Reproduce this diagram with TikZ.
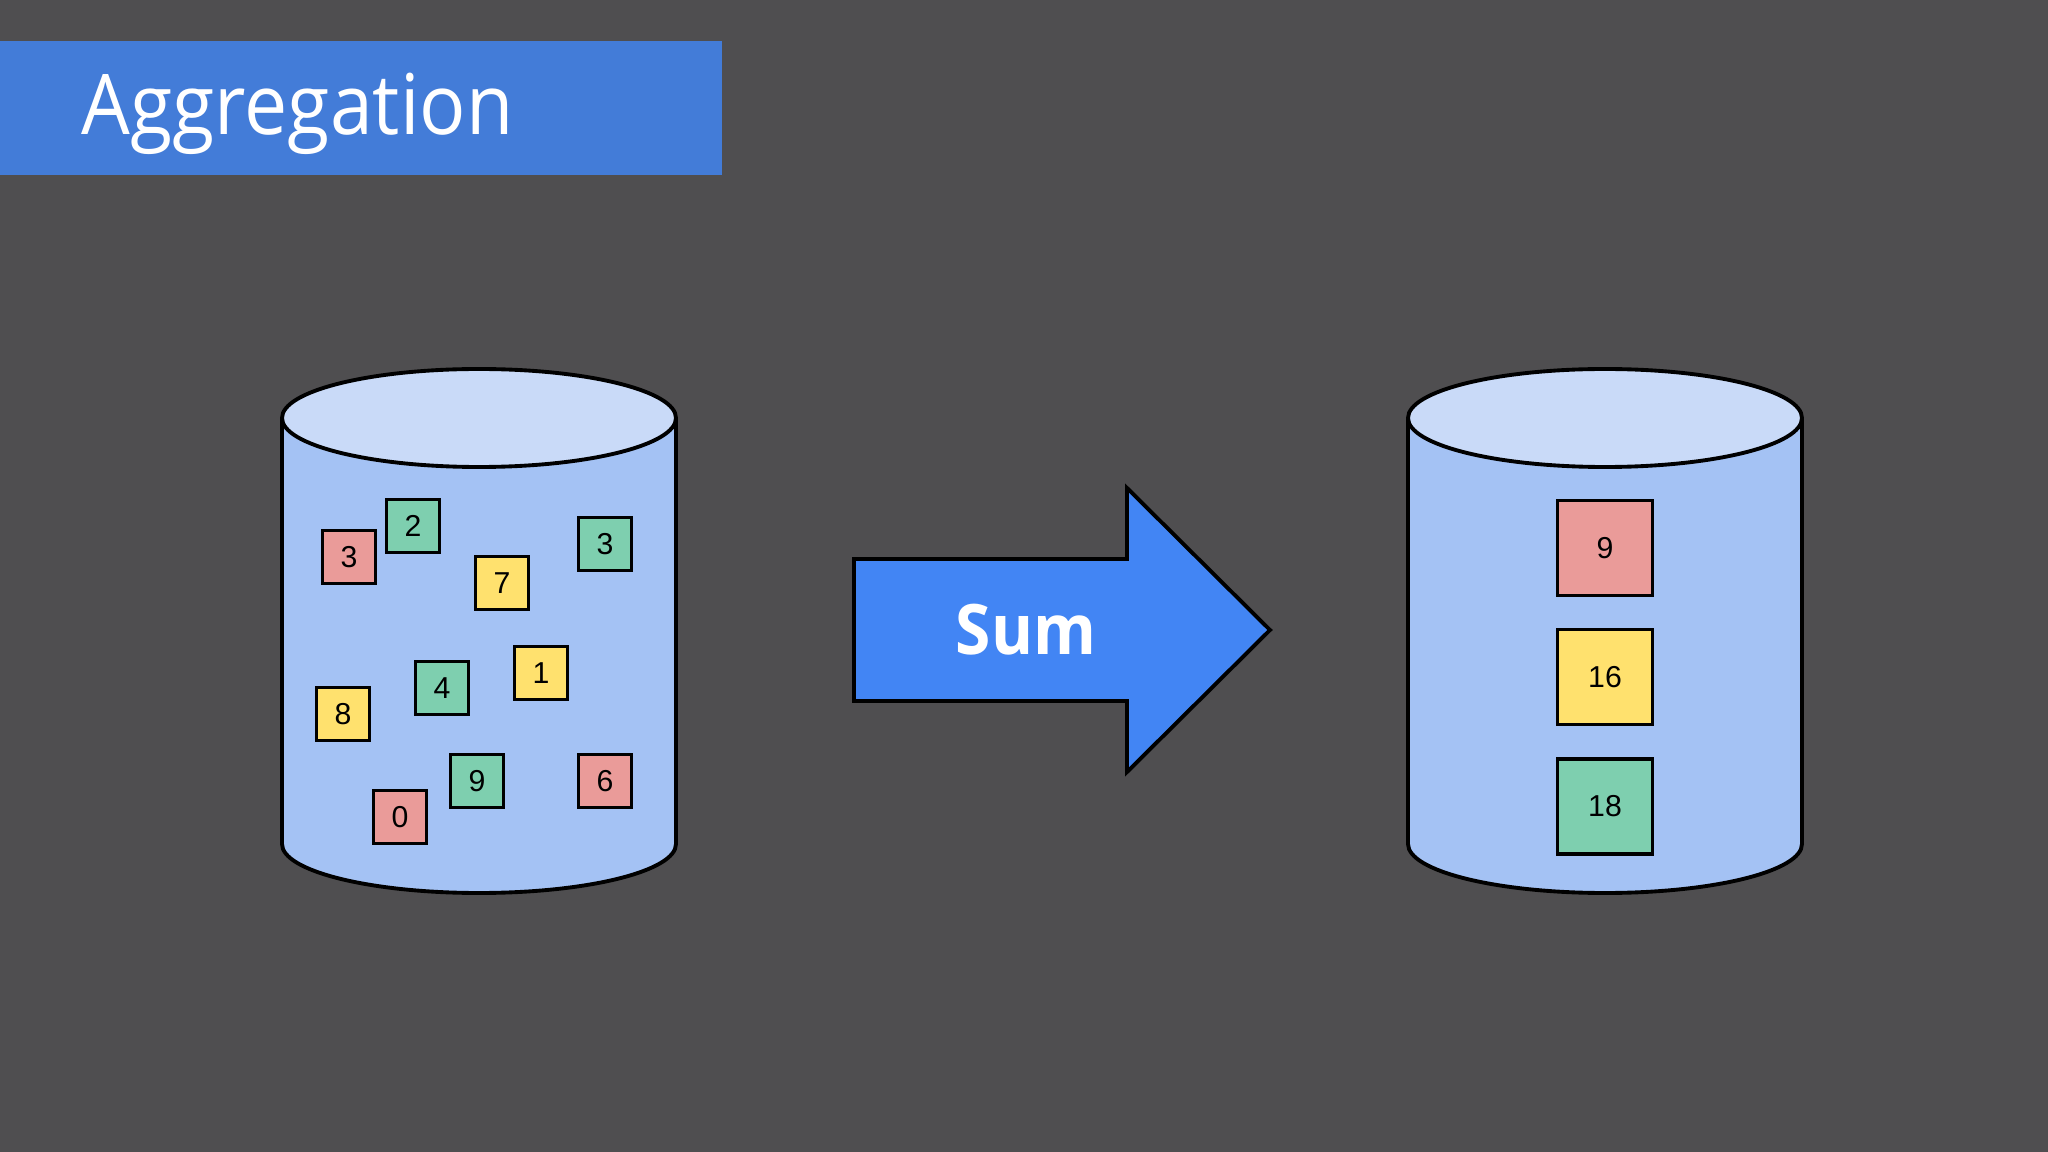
\documentclass[tikz,border=0pt]{standalone}
\usepackage{fontspec}
\setmainfont{Liberation Sans}
\newfontfamily\opensans[FakeStretch=0.92]{Open Sans}
\usepackage{xcolor}
\usetikzlibrary{positioning}
\definecolor{SlideGray}{RGB}{79,78,80}
\definecolor{TitleBlue}{RGB}{67,124,216}
\definecolor{ArrowBlue}{RGB}{66,133,244}
\definecolor{DrumTop}{RGB}{201,218,248}
\definecolor{DrumBody}{RGB}{164,194,244}
\definecolor{BoxRed}{RGB}{234,155,153}
\definecolor{BoxYellow}{RGB}{255,225,110}
\definecolor{BoxGreen}{RGB}{126,207,175}
\tikzset{
    valbox/.style={rectangle, draw=black, line width=0.9pt, minimum size=0.525cm, inner sep=0pt, font=\fontsize{8.6}{10}\selectfont},
    sumbox/.style={valbox, minimum size=0.95cm}
}

\begin{document}
\begin{tikzpicture}[
        x=0.01cm, y=-0.01cm,
        % --- STYLE CHUNG ---
        outline/.style={
            draw=black,
            line width=1.1pt
        },
        % Style tieu de
        titletext/.style={
            text=white,
            inner sep=0pt,
            font=\opensans\fontsize{23.8}{28}\selectfont
        },
        % Style chu tren mui ten
        arrowtext/.style={
            text=white,
            inner sep=0pt,
            font=\opensans\bfseries\fontsize{19.8}{24}\selectfont
        }
    ]

        % --- NEN ---
        \useasboundingbox (0,0) rectangle (2048,1152);
        \fill[SlideGray] (0,0) rectangle (2048,1152);

        % --- THANH TIEU DE ---
        \fill[TitleBlue] (0,41) rectangle (722,175);
        \node[titletext, anchor=base west] (title) at (81,135) {Aggregation};

        % --- HAI TRU DU LIEU ---
        \foreach \cx/\name in {479/src, 1605/dst} {
            \path[fill=DrumBody, outline] (\cx-197,418) -- (\cx-197,844)
                arc[start angle=180, end angle=0, x radius=197, y radius=49]
                -- (\cx+197,418);
            \draw[fill=DrumTop, outline] (\cx,418) ellipse (197 and 49);
            \coordinate (\name) at (\cx,630);
        }

        % --- MUI TEN ---
        \draw[fill=ArrowBlue, outline] (854,559) -- (1127,559) -- (1127,488)
            -- (1270,630) -- (1127,772) -- (1127,701) -- (854,701) -- cycle;
        \node[arrowtext, anchor=base] (sum) at (1026,655) {Sum};

        % --- CAC GIA TRI BAN DAU ---
        \foreach \x/\y/\c/\v/\n in {349/557/BoxRed/3/a1, 413/526/BoxGreen/2/a2,
                502/583/BoxYellow/7/a3, 605/544/BoxGreen/3/a4,
                541/673/BoxYellow/1/a5, 442/688/BoxGreen/4/a6,
                343/714/BoxYellow/8/a7, 477/781/BoxGreen/9/a8,
                605/781/BoxRed/6/a9, 400/817/BoxRed/0/a10} {
            \node[valbox, fill=\c] (\n) at (\x,\y) {\v};
        }

        % --- KET QUA TONG ---
        \node[sumbox, fill=BoxRed] (s9) at (1605,548) {9};
        \node[sumbox, fill=BoxYellow, below=0.31cm of s9] (s16) {16};
        \node[sumbox, fill=BoxGreen, below=0.31cm of s16] (s18) {18};

    \end{tikzpicture}
\end{document}
